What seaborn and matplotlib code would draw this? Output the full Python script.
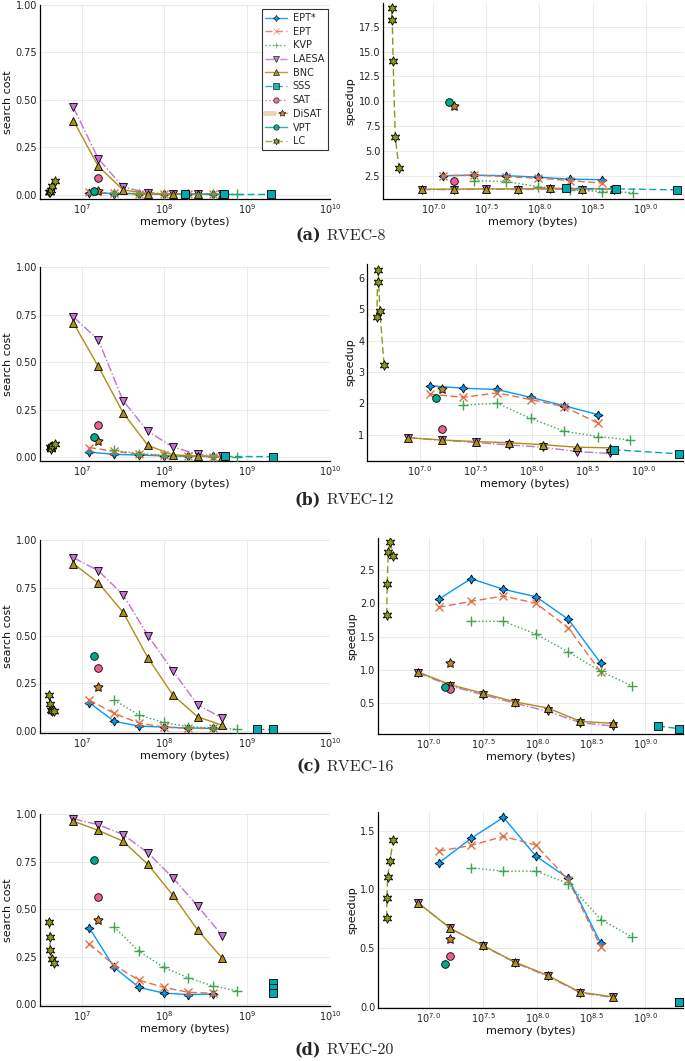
import numpy as np
import pandas as pd
import matplotlib
matplotlib.use("Agg")
import matplotlib.pyplot as plt
import seaborn as sns
from matplotlib.lines import Line2D
from matplotlib.legend_handler import HandlerTuple
from matplotlib.ticker import FixedLocator, FixedFormatter, NullLocator, FormatStrFormatter

sns.set_theme(style="white")
plt.rcParams['font.family'] = ['DejaVu Sans']
plt.rcParams['mathtext.fontset'] = 'dejavusans'

# ---------------- data ----------------
METHODS = ["EPT*", "EPT", "KVP", "LAESA", "BNC", "SSS", "SAT", "DiSAT", "VPT", "LC"]
DATASETS = ["RVEC-8", "RVEC-12", "RVEC-16", "RVEC-20"]
CAPTION_TAGS = ["(a)", "(b)", "(c)", "(d)"]

# memory, as log10(bytes)
MEM_EPT = [7.09, 7.39, 7.69, 7.99, 8.29, 8.59]          # EPT*, EPT
MEM_KVP = [7.39, 7.69, 7.99, 8.29, 8.59, 8.88]
MEM_LAESA = [6.9, 7.2, 7.5, 7.8, 8.1, 8.4, 8.7]        # LAESA, BNC
MEM_SAT = [7.2]
MEM_DISAT = [7.2]
MEM_VPT = [7.15]
MEM_SSS = {"RVEC-8": [8.25, 8.72, 9.29], "RVEC-12": [8.73, 9.31],
           "RVEC-16": [9.12, 9.31], "RVEC-20": [9.31, 9.31, 9.31]}
MEM_LC = {"RVEC-8": [6.61, 6.615, 6.625, 6.645, 6.68],
          "RVEC-12": [6.618, 6.624, 6.63, 6.645, 6.682],
          "RVEC-16": [6.61, 6.615, 6.625, 6.64, 6.67],
          "RVEC-20": [6.61, 6.612, 6.62, 6.64, 6.67]}

COST_8 = {"EPT*": [0.01, 0.006, 0.004, 0.003, 0.002, 0.001],
          "EPT": [0.015, 0.008, 0.005, 0.003, 0.002, 0.002],
          "KVP": [0.01, 0.006, 0.004, 0.003, 0.002, 0.001],
          "LAESA": [0.46, 0.19, 0.04, 0.01, 0.005, 0.003, 0.002],
          "BNC": [0.39, 0.15, 0.025, 0.006, 0.003, 0.002, 0.001],
          "SSS": [0.002, 0.001, 0.001], "SAT": [0.09], "DiSAT": [0.02], "VPT": [0.02],
          "LC": [0.015, 0.012, 0.025, 0.045, 0.07]}
SPEED_8 = {"EPT*": [2.5, 2.55, 2.5, 2.35, 2.15, 2.1],
           "EPT": [2.5, 2.55, 2.4, 2.25, 2.0, 1.75],
           "KVP": [2.0, 1.9, 1.4, 1.05, 0.9, 0.8],
           "LAESA": [1.1, 1.1, 1.15, 1.1, 1.15, 1.1, 1.1],
           "BNC": [1.13, 1.15, 1.17, 1.17, 1.22, 1.2, 1.15],
           "SSS": [1.23, 1.17, 1.07], "SAT": [2.0], "DiSAT": [9.55], "VPT": [9.95],
           "LC": [18.2, 19.4, 14.1, 6.4, 3.3]}

COST_12 = {"EPT*": [0.026, 0.014, 0.01, 0.006, 0.004, 0.003],
           "EPT": [0.05, 0.03, 0.015, 0.008, 0.004, 0.002],
           "KVP": [0.035, 0.018, 0.009, 0.004, 0.002, 0.001],
           "LAESA": [0.737, 0.617, 0.296, 0.135, 0.053, 0.014, 0.005],
           "BNC": [0.705, 0.477, 0.233, 0.061, 0.012, 0.005, 0.002],
           "SSS": [0.003, 0.002], "SAT": [0.17], "DiSAT": [0.082], "VPT": [0.105],
           "LC": [0.055, 0.045, 0.04, 0.058, 0.07]}
SPEED_12 = {"EPT*": [2.56, 2.48, 2.44, 2.19, 1.92, 1.64],
            "EPT": [2.29, 2.19, 2.33, 2.12, 1.89, 1.37],
            "KVP": [1.94, 2.0, 1.52, 1.11, 0.94, 0.83],
            "LAESA": [0.9, 0.82, 0.75, 0.67, 0.6, 0.46, 0.4],
            "BNC": [0.9, 0.83, 0.78, 0.74, 0.68, 0.6, 0.58],
            "SSS": [0.52, 0.39], "SAT": [1.18], "DiSAT": [2.44], "VPT": [2.18],
            "LC": [4.75, 5.88, 6.26, 4.95, 3.22]}

COST_16 = {"EPT*": [0.149, 0.052, 0.026, 0.021, 0.016, 0.014],
           "EPT": [0.163, 0.093, 0.042, 0.021, 0.014, 0.014],
           "KVP": [0.163, 0.084, 0.045, 0.023, 0.016, 0.01],
           "LAESA": [0.907, 0.84, 0.713, 0.5, 0.316, 0.138, 0.068],
           "BNC": [0.876, 0.776, 0.622, 0.383, 0.19, 0.075, 0.03],
           "SSS": [0.009, 0.009], "SAT": [0.332], "DiSAT": [0.231], "VPT": [0.392],
           "LC": [0.187, 0.142, 0.112, 0.103, 0.107]}
SPEED_16 = {"EPT*": [2.06, 2.37, 2.21, 2.10, 1.76, 1.10],
            "EPT": [1.94, 2.03, 2.11, 2.0, 1.63, 0.97],
            "KVP": [1.73, 1.73, 1.54, 1.27, 0.98, 0.76],
            "LAESA": [0.96, 0.76, 0.63, 0.5, 0.38, 0.21, 0.16],
            "BNC": [0.97, 0.78, 0.65, 0.52, 0.43, 0.23, 0.2],
            "SSS": [0.16, 0.12], "SAT": [0.72], "DiSAT": [1.1], "VPT": [0.74],
            "LC": [1.83, 2.29, 2.77, 2.92, 2.71]}

COST_20 = {"EPT*": [0.403, 0.195, 0.089, 0.059, 0.051, 0.054],
           "EPT": [0.319, 0.206, 0.127, 0.089, 0.063, 0.058],
           "KVP": [0.407, 0.279, 0.194, 0.138, 0.096, 0.07],
           "LAESA": [0.974, 0.944, 0.892, 0.796, 0.665, 0.517, 0.36],
           "BNC": [0.962, 0.914, 0.857, 0.735, 0.574, 0.391, 0.241],
           "SSS": [0.11, 0.085, 0.06], "SAT": [0.562], "DiSAT": [0.445], "VPT": [0.757],
           "LC": [0.433, 0.351, 0.284, 0.239, 0.215]}
SPEED_20 = {"EPT*": [1.224, 1.435, 1.614, 1.284, 1.094, 0.54],
            "EPT": [1.327, 1.375, 1.452, 1.378, 1.08, 0.511],
            "KVP": [1.185, 1.156, 1.156, 1.05, 0.744, 0.594],
            "LAESA": [0.886, 0.668, 0.52, 0.375, 0.26, 0.12, 0.08],
            "BNC": [0.886, 0.668, 0.523, 0.38, 0.267, 0.125, 0.085],
            "SSS": [0.04, 0.04, 0.04], "SAT": [0.429], "DiSAT": [0.58], "VPT": [0.364],
            "LC": [0.758, 0.923, 1.11, 1.24, 1.42]}

COSTS = [COST_8, COST_12, COST_16, COST_20]
SPEEDS = [SPEED_8, SPEED_12, SPEED_16, SPEED_20]

LEFT_XTICKS = [7, 8, 9, 10]
RIGHT_XTICKS = [7.0, 7.5, 8.0, 8.5, 9.0]
LEFT_YTICKS = [0.0, 0.25, 0.5, 0.75, 1.0]
RIGHT_YTICKS = [[2.5, 5.0, 7.5, 10.0, 12.5, 15.0, 17.5],
                [1, 2, 3, 4, 5, 6],
                [0.5, 1.0, 1.5, 2.0, 2.5],
                [0.0, 0.5, 1.0, 1.5]]

# ---------------- styles ----------------
COLORS = ["#009AFA", "#E36F47", "#3EA44E", "#C371D2", "#AC8E18",
          "#00A9AD", "#ED5E93", "#C68225", "#00A98D", "#8E971D"]
MARKERS = [(4, 1, 0), "x", "+", "v", "^", "s", "o", (5, 1, 0), "o", (6, 1, 0)]
MSIZES = [6.5, 6, 7, 6, 6, 6, 5.5, 7, 5.5, 7]
LSTYLES = ["-", (0, (5, 2.5)), ":", "-.", "-", (0, (5, 2.5)), ":", "-", "-", (0, (5, 2.5))]

W, H = 685, 1061
fig = plt.figure(figsize=(W / 100, H / 100), dpi=100)

LEFT_BOX = [(5, 199), (267, 461), (540, 733), (814, 1006)]
RIGHT_BOX = [(3, 199), (264, 461), (538, 734), (812, 1008)]
RIGHT_X0 = [383, 367, 378, 378]
LEFT_YLIM = [(-0.023, 1.0), (-0.021, 1.0), (-0.01, 1.0), (-0.009, 1.0)]
RIGHT_YLIM = [(0.15, 19.9), (0.16, 6.44), (0.04, 2.98), (-0.01, 1.66)]
CAPTION_Y = [236, 500, 767, 1050]


def make_ax(x0, x1, top, bot):
    return fig.add_axes([x0 / W, 1 - bot / H, (x1 - x0) / W, (bot - top) / H])


def series_mem(name, ds):
    if name in ("EPT*", "EPT"):
        return MEM_EPT
    if name == "KVP":
        return MEM_KVP
    if name in ("LAESA", "BNC"):
        return MEM_LAESA
    if name == "SAT":
        return MEM_SAT
    if name == "DiSAT":
        return MEM_DISAT
    if name == "VPT":
        return MEM_VPT
    if name == "SSS":
        return MEM_SSS[ds]
    return MEM_LC[ds]


def draw(ax, values, ds):
    for i, name in enumerate(METHODS):
        mem = 10 ** np.array(series_mem(name, ds), dtype=float)
        df = pd.DataFrame({"memory": mem, "value": values[name]})
        unfilled = MARKERS[i] in ("x", "+")
        sns.lineplot(data=df, x="memory", y="value", ax=ax, estimator=None, sort=False,
                     color=COLORS[i], linestyle=LSTYLES[i], linewidth=1.0,
                     marker=MARKERS[i], markersize=MSIZES[i],
                     markeredgecolor=COLORS[i] if unfilled else "black",
                     markeredgewidth=1.0 if unfilled else 0.6,
                     zorder=3 + i)


def style_ax(ax):
    ax.set_xscale("log")
    ax.xaxis.set_minor_locator(NullLocator())
    ax.grid(True, color="#e6e6e6", linewidth=0.6, zorder=0)
    for s in ("top", "right"):
        ax.spines[s].set_visible(False)
    for s in ("left", "bottom"):
        ax.spines[s].set_color("black")
        ax.spines[s].set_linewidth(0.9)
    ax.tick_params(direction="in", length=3, width=0.6, labelsize=7, pad=2,
                   colors="black", labelcolor="#222222")
    ax.set_xlabel("memory (bytes)", fontsize=8, labelpad=1, color="#111111")


for r, ds in enumerate(DATASETS):
    # left: search cost
    axl = make_ax(40, 330, *LEFT_BOX[r])
    style_ax(axl)
    draw(axl, COSTS[r], ds)
    axl.set_xlim(10 ** 6.496, 10 ** 10)
    axl.set_ylim(*LEFT_YLIM[r])
    axl.xaxis.set_major_locator(FixedLocator([10.0 ** e for e in LEFT_XTICKS]))
    axl.xaxis.set_major_formatter(FixedFormatter([rf"$10^{{{e}}}$" for e in LEFT_XTICKS]))
    axl.xaxis.set_minor_locator(NullLocator())
    axl.yaxis.set_major_locator(FixedLocator(LEFT_YTICKS))
    axl.yaxis.set_major_formatter(FormatStrFormatter("%.2f"))
    axl.set_ylabel("search cost", fontsize=8, labelpad=2, color="#111111")

    # right: speedup
    axr = make_ax(RIGHT_X0[r], 683, *RIGHT_BOX[r])
    style_ax(axr)
    draw(axr, SPEEDS[r], ds)
    axr.set_xlim(10 ** 6.53, 10 ** 9.35)
    axr.set_ylim(*RIGHT_YLIM[r])
    axr.xaxis.set_major_locator(FixedLocator([10.0 ** e for e in RIGHT_XTICKS]))
    axr.xaxis.set_major_formatter(FixedFormatter([rf"$10^{{{e:.1f}}}$" for e in RIGHT_XTICKS]))
    axr.xaxis.set_minor_locator(NullLocator())
    axr.yaxis.set_major_locator(FixedLocator(RIGHT_YTICKS[r]))
    axr.yaxis.set_major_formatter(FormatStrFormatter("%d" if r == 1 else "%.1f"))
    axr.set_ylabel("speedup", fontsize=8, labelpad=2, color="#111111")

    # caption
    fig.text(321 / W, 1 - CAPTION_Y[r] / H, CAPTION_TAGS[r], ha="right", va="center",
             fontsize=11.5, fontweight="bold", family=["DejaVu Serif"])
    fig.text(327 / W, 1 - CAPTION_Y[r] / H, ds, ha="left", va="center",
             fontsize=11.5, family=["cmr10", "DejaVu Serif"])

    if r == 0:
        handles = []
        for i, name in enumerate(METHODS):
            unfilled = MARKERS[i] in ("x", "+")
            mk = Line2D([], [], color=COLORS[i], linestyle=LSTYLES[i], linewidth=1.0,
                        marker=MARKERS[i], markersize=MSIZES[i] * 0.7,
                        markeredgecolor=COLORS[i] if unfilled else "black",
                        markeredgewidth=0.5, alpha=0.85)
            if name == "DiSAT":
                pale = Line2D([], [], color=COLORS[i], linewidth=3.5, alpha=0.35)
                handles.append((pale, mk))
            else:
                handles.append(mk)
        leg = axl.legend(handles, METHODS, loc="upper right", bbox_to_anchor=(0.993, 0.979),
                         borderaxespad=0, fontsize=7, frameon=True, fancybox=False,
                         edgecolor="black", labelspacing=0.38, handlelength=2.2,
                         handletextpad=0.6, borderpad=0.4,
                         handler_map={tuple: HandlerTuple(ndivide=None)})
        leg.get_frame().set_linewidth(0.8)
        leg.set_zorder(20)

fig.savefig("out.png", dpi=100)
